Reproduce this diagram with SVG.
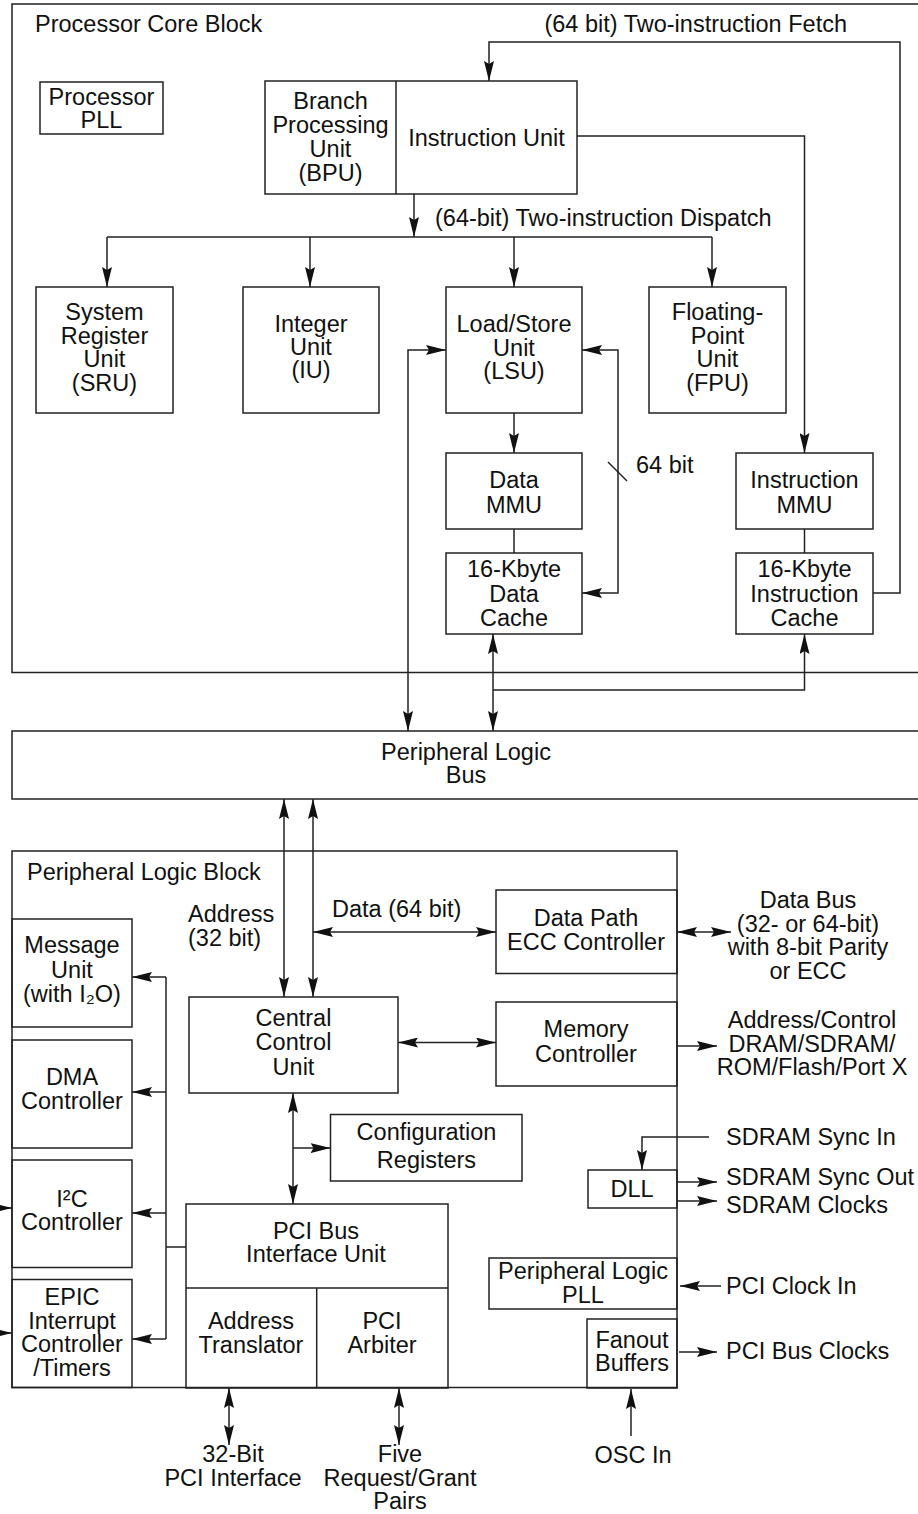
<svg xmlns="http://www.w3.org/2000/svg" width="918" height="1514" viewBox="0 0 918 1514">
<style>
.bx{fill:none;stroke:#222;stroke-width:1.5}
.w{fill:none;stroke:#222;stroke-width:1.5}
.a{marker-end:url(#ae)}
.b{marker-start:url(#as);marker-end:url(#ae)}
text{font-family:"Liberation Sans",Arial,Helvetica,"DejaVu Sans",sans-serif;font-size:23.5px;fill:#111}
.c{text-anchor:middle}
.e{text-anchor:end}
</style>
<defs>
<marker id="ae" viewBox="-20 -5 20 10" refX="0" refY="0" markerWidth="20" markerHeight="10" markerUnits="userSpaceOnUse" orient="auto">
<path d="M0,0 L-20,-5 L-17,0 L-20,5 Z" fill="#111"/>
</marker>
<marker id="as" viewBox="-20 -5 20 10" refX="0" refY="0" markerWidth="20" markerHeight="10" markerUnits="userSpaceOnUse" orient="auto-start-reverse">
<path d="M0,0 L-20,-5 L-17,0 L-20,5 Z" fill="#111"/>
</marker>
</defs>
<rect x="0" y="0" width="918" height="1514" fill="#fff"/>

<g id="processor-core-block">
<rect class="bx" x="12" y="4" width="930" height="668.5"/>
<text x="35" y="32">Processor Core Block</text>
</g>

<g id="processor-pll">
<rect class="bx" x="40" y="82" width="123" height="52"/>
<text class="c" x="101.5" y="105">Processor</text>
<text class="c" x="101.5" y="128">PLL</text>
</g>

<g id="bpu-instruction-unit">
<rect class="bx" x="265" y="81" width="312" height="113"/>
<line class="w" x1="396" y1="81" x2="396" y2="194"/>
<text class="c" x="330.5" y="109">Branch</text>
<text class="c" x="330.5" y="133">Processing</text>
<text class="c" x="330.5" y="157">Unit</text>
<text class="c" x="330.5" y="181">(BPU)</text>
<text class="c" x="486.5" y="146">Instruction Unit</text>
</g>

<g id="sru">
<rect class="bx" x="36" y="287" width="137" height="126"/>
<text class="c" x="104.5" y="320">System</text>
<text class="c" x="104.5" y="343.5">Register</text>
<text class="c" x="104.5" y="367">Unit</text>
<text class="c" x="104.5" y="390.5">(SRU)</text>
</g>

<g id="iu">
<rect class="bx" x="243" y="287" width="136" height="126"/>
<text class="c" x="311" y="332">Integer</text>
<text class="c" x="311" y="355">Unit</text>
<text class="c" x="311" y="378">(IU)</text>
</g>

<g id="lsu">
<rect class="bx" x="446" y="287" width="136" height="126"/>
<text class="c" x="514" y="332">Load/Store</text>
<text class="c" x="514" y="356">Unit</text>
<text class="c" x="514" y="379">(LSU)</text>
</g>

<g id="fpu">
<rect class="bx" x="649" y="287" width="137" height="126"/>
<text class="c" x="717.5" y="320">Floating-</text>
<text class="c" x="717.5" y="343.5">Point</text>
<text class="c" x="717.5" y="367">Unit</text>
<text class="c" x="717.5" y="390.5">(FPU)</text>
</g>

<g id="data-mmu">
<rect class="bx" x="446" y="453" width="136" height="76"/>
<text class="c" x="514" y="488">Data</text>
<text class="c" x="514" y="513">MMU</text>
</g>

<g id="data-cache">
<rect class="bx" x="446" y="553" width="136" height="81"/>
<text class="c" x="514" y="577">16-Kbyte</text>
<text class="c" x="514" y="601.5">Data</text>
<text class="c" x="514" y="626">Cache</text>
</g>

<g id="instruction-mmu">
<rect class="bx" x="736" y="453" width="137" height="76"/>
<text class="c" x="804.5" y="488">Instruction</text>
<text class="c" x="804.5" y="513">MMU</text>
</g>

<g id="instruction-cache">
<rect class="bx" x="736" y="553" width="137" height="81"/>
<text class="c" x="804.5" y="577">16-Kbyte</text>
<text class="c" x="804.5" y="601.5">Instruction</text>
<text class="c" x="804.5" y="626">Cache</text>
</g>

<g id="peripheral-logic-bus">
<rect class="bx" x="12" y="731" width="930" height="68"/>
<text class="c" x="466" y="760">Peripheral Logic</text>
<text class="c" x="466" y="783">Bus</text>
</g>

<g id="peripheral-logic-block">
<rect class="bx" x="12" y="851" width="665" height="536.5"/>
<text x="27" y="880">Peripheral Logic Block</text>
</g>

<g id="data-path-ecc">
<rect class="bx" x="496" y="890" width="181" height="83.5"/>
<text class="c" x="586" y="926">Data Path</text>
<text class="c" x="586" y="950">ECC Controller</text>
</g>

<g id="memory-controller">
<rect class="bx" x="496" y="1002" width="181" height="84"/>
<text class="c" x="586" y="1036.5">Memory</text>
<text class="c" x="586" y="1061.5">Controller</text>
</g>

<g id="central-control-unit">
<rect class="bx" x="189" y="997" width="209" height="96"/>
<text class="c" x="293.5" y="1026">Central</text>
<text class="c" x="293.5" y="1050">Control</text>
<text class="c" x="293.5" y="1075">Unit</text>
</g>

<g id="message-unit">
<rect class="bx" x="12" y="919" width="120" height="108"/>
<text class="c" x="72" y="953">Message</text>
<text class="c" x="72" y="978">Unit</text>
<text class="c" x="72" y="1001.5">(with I₂O)</text>
</g>

<g id="dma-controller">
<rect class="bx" x="12" y="1040" width="120" height="108"/>
<text class="c" x="72" y="1085">DMA</text>
<text class="c" x="72" y="1109">Controller</text>
</g>

<g id="i2c-controller">
<rect class="bx" x="12" y="1160" width="120" height="107.5"/>
<text class="c" x="72" y="1207">I²C</text>
<text class="c" x="72" y="1230">Controller</text>
</g>

<g id="epic">
<rect class="bx" x="12" y="1279.5" width="120" height="108"/>
<text class="c" x="72" y="1305">EPIC</text>
<text class="c" x="72" y="1328.5">Interrupt</text>
<text class="c" x="72" y="1352">Controller</text>
<text class="c" x="72" y="1375.5">/Timers</text>
</g>

<g id="configuration-registers">
<rect class="bx" x="330.5" y="1114.5" width="191.5" height="66.5"/>
<text class="c" x="426.5" y="1140">Configuration</text>
<text class="c" x="426.5" y="1168">Registers</text>
</g>

<g id="pci-bus-interface-unit">
<rect class="bx" x="186" y="1204" width="262" height="184"/>
<line class="w" x1="186" y1="1288" x2="448" y2="1288"/>
<line class="w" x1="316.7" y1="1288" x2="316.7" y2="1388"/>
<text class="c" x="316" y="1238.5">PCI Bus</text>
<text class="c" x="316" y="1262">Interface Unit</text>
<text class="c" x="251" y="1329">Address</text>
<text class="c" x="251" y="1353">Translator</text>
<text class="c" x="382" y="1329">PCI</text>
<text class="c" x="382" y="1353">Arbiter</text>
</g>

<g id="dll">
<rect class="bx" x="588" y="1170" width="89" height="38"/>
<text class="c" x="632" y="1197">DLL</text>
</g>

<g id="peripheral-logic-pll">
<rect class="bx" x="489" y="1258" width="188" height="51"/>
<text class="c" x="583" y="1279">Peripheral Logic</text>
<text class="c" x="583" y="1303">PLL</text>
</g>

<g id="fanout-buffers">
<rect class="bx" x="587" y="1319" width="90" height="69"/>
<text class="c" x="632" y="1347.5">Fanout</text>
<text class="c" x="632" y="1371">Buffers</text>
</g>

<g id="labels">
<text class="e" x="847" y="32">(64 bit) Two-instruction Fetch</text>
<text x="435" y="226">(64-bit) Two-instruction Dispatch</text>
<text x="636" y="473">64 bit</text>
<text x="188" y="922">Address</text>
<text x="188" y="946">(32 bit)</text>
<text x="332" y="917">Data (64 bit)</text>
<text class="c" x="808" y="908">Data Bus</text>
<text class="c" x="808" y="931.5">(32- or 64-bit)</text>
<text class="c" x="808" y="955">with 8-bit Parity</text>
<text class="c" x="808" y="979">or ECC</text>
<text class="c" x="812" y="1028">Address/Control</text>
<text class="c" x="812" y="1051.5">DRAM/SDRAM/</text>
<text class="c" x="812" y="1075">ROM/Flash/Port X</text>
<text x="726" y="1145">SDRAM Sync In</text>
<text x="726" y="1185">SDRAM Sync Out</text>
<text x="726" y="1213">SDRAM Clocks</text>
<text x="726" y="1294">PCI Clock In</text>
<text x="726" y="1358.5">PCI Bus Clocks</text>
<text class="c" x="633" y="1463">OSC In</text>
<text class="c" x="233" y="1462">32-Bit</text>
<text class="c" x="233" y="1485.5">PCI Interface</text>
<text class="c" x="400" y="1462">Five</text>
<text class="c" x="400" y="1485.5">Request/Grant</text>
<text class="c" x="400" y="1509">Pairs</text>
</g>

<g id="connectors">
<path class="w a" d="M873,593 H900 V42 H489 V81"/>
<path class="w a" d="M577,136 H804.5 V453"/>
<path class="w a" d="M414,194 V237"/>
<path class="w" d="M107,237 H712"/>
<path class="w a" d="M107,237 V287"/>
<path class="w a" d="M310,237 V287"/>
<path class="w a" d="M514,237 V287"/>
<path class="w a" d="M712,237 V287"/>
<path class="w a" d="M514,413 V453"/>
<path class="w" d="M514,529 V553"/>
<path class="w" d="M804.5,529 V553"/>
<path class="w b" d="M582,350 H618 V593 H582"/>
<line class="w" x1="608" y1="462" x2="627" y2="481"/>
<path class="w b" d="M446,350 H408 V731"/>
<path class="w b" d="M493,634 V731"/>
<path class="w a" d="M493,690 H804.5 V634"/>
<path class="w b" d="M284,799 V997"/>
<path class="w b" d="M313,799 V997"/>
<path class="w b" d="M313,932 H496"/>
<path class="w b" d="M677,932 H731"/>
<path class="w b" d="M398,1042.5 H496"/>
<path class="w a" d="M677,1046 H717"/>
<path class="w" d="M166,977 V1339"/>
<path class="w a" d="M166,977 H132"/>
<path class="w a" d="M166,1092 H132"/>
<path class="w a" d="M166,1213 H132"/>
<path class="w a" d="M166,1339 H132"/>
<path class="w" d="M186,1247 H166"/>
<path class="w a" d="M-10,1208 H12"/>
<path class="w a" d="M-10,1333 H12"/>
<path class="w b" d="M293,1093 V1204"/>
<path class="w a" d="M293,1148 H330.5"/>
<path class="w b" d="M229,1388 V1445"/>
<path class="w b" d="M399,1388 V1445"/>
<path class="w a" d="M709,1137 H642 V1170"/>
<path class="w a" d="M677,1182 H717"/>
<path class="w a" d="M677,1201 H717"/>
<path class="w a" d="M721,1286 H680"/>
<path class="w a" d="M679,1352 H717"/>
<path class="w a" d="M631,1436 V1389"/>
</g>
</svg>
